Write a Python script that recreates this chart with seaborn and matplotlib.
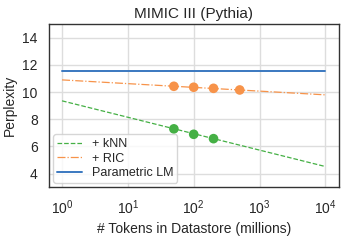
import numpy as np
import pandas as pd
import matplotlib
matplotlib.use("Agg")
import matplotlib.pyplot as plt
import seaborn as sns

# datastore sizes (millions of tokens) and measured perplexities
knn_tokens = [50, 100, 200]
knn_ppl = [7.29, 6.89, 6.57]
ric_tokens = [50, 100, 200, 500]
ric_ppl = [10.42, 10.35, 10.27, 10.15]

# fitted trend lines, read at the ends of the range
fit_tokens = [1, 10000]
knn_fit = [9.35, 4.52]
ric_fit = [10.89, 9.79]
parametric_ppl = [11.55, 11.55]

c_knn = "#45b045"
c_ric = "#f7934a"
c_lm = "#3a78c0"

sns.set_theme(style="whitegrid", rc={"axes.edgecolor": "#333333", "axes.linewidth": 1.0,
                                     "grid.color": "#dddddd"})
plt.rcParams["font.family"] = ["Liberation Sans", "DejaVu Sans"]

fig, ax = plt.subplots(figsize=(3.49, 2.4), dpi=100)

fit_df = pd.DataFrame({"tokens": fit_tokens, "knn": knn_fit, "ric": ric_fit, "lm": parametric_ppl})
sns.lineplot(data=fit_df, x="tokens", y="knn", ax=ax, color=c_knn, linestyle="--", lw=0.9, label="+ kNN")
sns.lineplot(data=fit_df, x="tokens", y="ric", ax=ax, color=c_ric, linestyle="-.", lw=0.9, label="+ RIC")
sns.lineplot(data=fit_df, x="tokens", y="lm", ax=ax, color=c_lm, lw=1.4, label="Parametric LM")

sns.scatterplot(x=knn_tokens, y=knn_ppl, ax=ax, color=c_knn, s=48, edgecolor="none", zorder=3)
sns.scatterplot(x=ric_tokens, y=ric_ppl, ax=ax, color=c_ric, s=48, edgecolor="none", zorder=3)

ax.set_xscale("log")
ax.set_xlim(10 ** -0.2, 10 ** 4.2)
ax.set_ylim(3, 15)
ax.set_yticks([4, 6, 8, 10, 12, 14])
ax.set_xticks([1, 10, 100, 1000, 10000])
ax.tick_params(labelsize=10, pad=2)
ax.set_title("MIMIC III (Pythia)", fontsize=11, pad=4)
ax.set_xlabel("# Tokens in Datastore (millions)", fontsize=10)
ax.set_ylabel("Perplexity", fontsize=10)
ax.legend(loc="lower left", fontsize=9, frameon=True, borderpad=0.3, labelspacing=0.2,
          handlelength=2.0, handletextpad=0.8, borderaxespad=0.35)

fig.subplots_adjust(left=0.14, right=0.97, top=0.9, bottom=0.22)
fig.savefig("out.png", dpi=100)
